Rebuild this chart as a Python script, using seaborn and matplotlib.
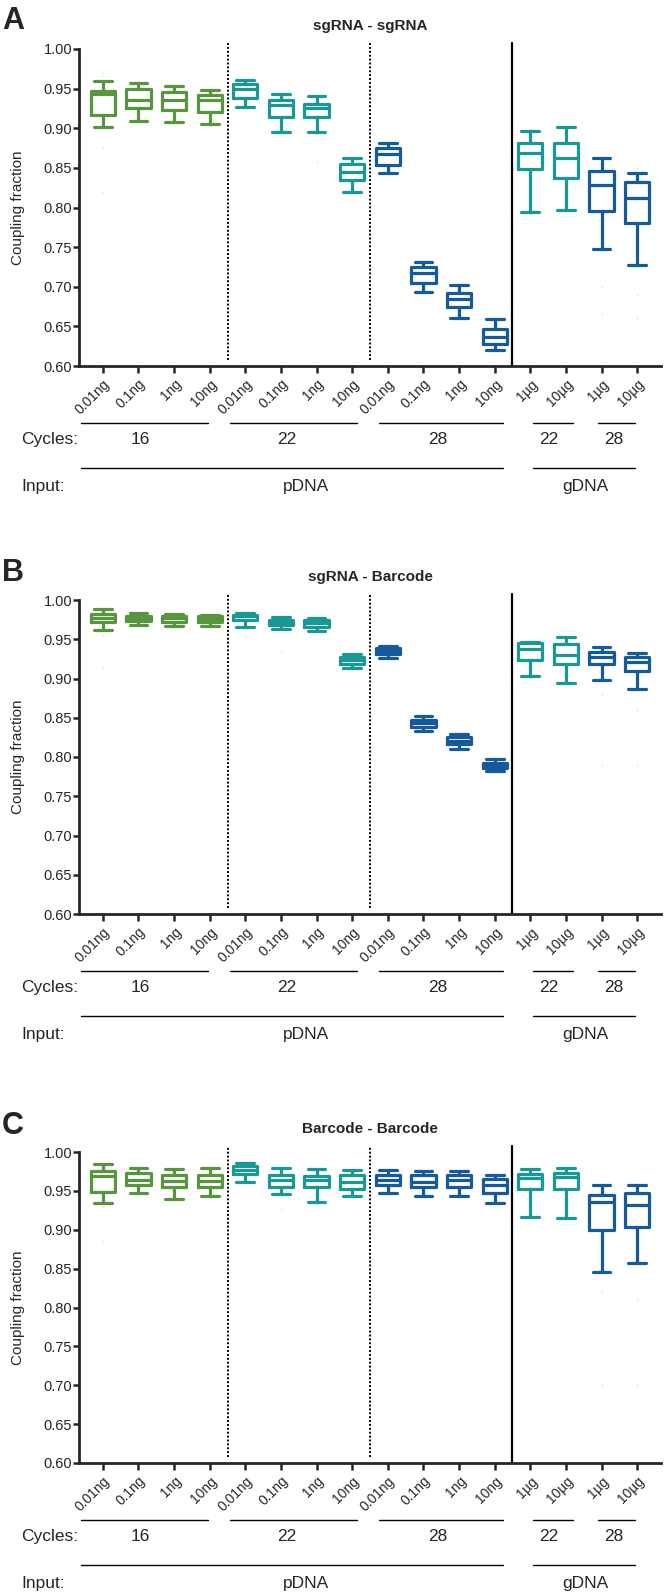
import numpy as np
import pandas as pd
import matplotlib
matplotlib.use("Agg")
import matplotlib.pyplot as plt
import matplotlib.transforms as mtransforms
import seaborn as sns

# categories
inputs = ['0.01ng', '0.1ng', '1ng', '10ng'] * 3 + ['1µg', '10µg'] * 2
cycles = ['16'] * 4 + ['22'] * 4 + ['28'] * 4 + ['22', '22', '28', '28']
groups = [f"g{i}" for i in range(len(inputs))]
palette = {'16': '#58953f', '22': '#1a9896', '28': '#155a9a'}

# Panel A: sgRNA - sgRNA (min, q1, median, q3, max)
a_low = [0.901, 0.909, 0.908, 0.905, 0.927, 0.895, 0.895, 0.819, 0.844, 0.693, 0.660, 0.620, 0.794, 0.797, 0.748, 0.728]
a_q1 = [0.917, 0.925, 0.923, 0.921, 0.938, 0.914, 0.914, 0.835, 0.853, 0.705, 0.675, 0.628, 0.848, 0.837, 0.795, 0.780]
a_med = [0.943, 0.936, 0.936, 0.936, 0.949, 0.929, 0.925, 0.845, 0.868, 0.717, 0.684, 0.637, 0.869, 0.862, 0.829, 0.812]
a_q3 = [0.947, 0.949, 0.946, 0.942, 0.956, 0.936, 0.931, 0.855, 0.875, 0.725, 0.692, 0.647, 0.881, 0.882, 0.846, 0.832]
a_high = [0.960, 0.957, 0.953, 0.948, 0.961, 0.943, 0.941, 0.863, 0.882, 0.731, 0.702, 0.659, 0.896, 0.902, 0.863, 0.843]
a_out_idx = [0, 0, 0, 6, 14, 14, 15, 15, 15]
a_out_val = [0.970, 0.876, 0.820, 0.858, 0.700, 0.665, 0.850, 0.690, 0.660]

# Panel B: sgRNA - Barcode
b_low = [0.962, 0.968, 0.967, 0.967, 0.966, 0.963, 0.960, 0.914, 0.926, 0.833, 0.810, 0.782, 0.903, 0.894, 0.898, 0.887]
b_q1 = [0.972, 0.973, 0.972, 0.972, 0.974, 0.968, 0.965, 0.919, 0.931, 0.838, 0.817, 0.786, 0.924, 0.919, 0.918, 0.909]
b_med = [0.977, 0.977, 0.977, 0.976, 0.979, 0.972, 0.971, 0.923, 0.935, 0.843, 0.821, 0.789, 0.938, 0.930, 0.928, 0.921]
b_q3 = [0.982, 0.980, 0.980, 0.979, 0.981, 0.975, 0.975, 0.928, 0.939, 0.847, 0.826, 0.792, 0.945, 0.944, 0.934, 0.928]
b_high = [0.989, 0.983, 0.982, 0.981, 0.984, 0.978, 0.977, 0.931, 0.942, 0.852, 0.829, 0.797, 0.947, 0.953, 0.940, 0.932]
b_out_idx = [0, 0, 4, 5, 14, 14, 15, 15]
b_out_val = [0.955, 0.913, 0.955, 0.935, 0.880, 0.790, 0.860, 0.790]

# Panel C: Barcode - Barcode
c_low = [0.935, 0.947, 0.939, 0.943, 0.962, 0.946, 0.936, 0.943, 0.947, 0.943, 0.944, 0.934, 0.916, 0.915, 0.846, 0.857]
c_q1 = [0.948, 0.958, 0.955, 0.955, 0.972, 0.955, 0.955, 0.952, 0.958, 0.955, 0.955, 0.947, 0.953, 0.952, 0.900, 0.903]
c_med = [0.969, 0.964, 0.963, 0.963, 0.977, 0.964, 0.964, 0.961, 0.964, 0.961, 0.964, 0.958, 0.966, 0.968, 0.936, 0.932]
c_q3 = [0.975, 0.973, 0.971, 0.970, 0.982, 0.971, 0.969, 0.970, 0.970, 0.970, 0.970, 0.965, 0.972, 0.973, 0.945, 0.947]
c_high = [0.984, 0.980, 0.978, 0.980, 0.986, 0.980, 0.978, 0.977, 0.977, 0.975, 0.975, 0.970, 0.978, 0.980, 0.957, 0.958]
c_out_idx = [0, 0, 5, 14, 14, 15, 15]
c_out_val = [0.930, 0.885, 0.927, 0.820, 0.700, 0.810, 0.700]

yticks = [0.60, 0.65, 0.70, 0.75, 0.80, 0.85, 0.90, 0.95, 1.00]

sns.set_style("ticks")
plt.rcParams['font.family'] = ['Liberation Sans', 'DejaVu Sans']

W, H = 667, 1593
fig = plt.figure(figsize=(W / 100, H / 100), dpi=100)

panels = [
    ('A', 'sgRNA - sgRNA', (a_low, a_q1, a_med, a_q3, a_high), (a_out_idx, a_out_val), 49, 366, 6),
    ('B', 'sgRNA - Barcode', (b_low, b_q1, b_med, b_q3, b_high), (b_out_idx, b_out_val), 600, 914, 558),
    ('C', 'Barcode - Barcode', (c_low, c_q1, c_med, c_q3, c_high), (c_out_idx, c_out_val), 1152, 1463, 1111),
]

for letter, title, stats, outs, top, bot, letter_y in panels:
    ax = fig.add_axes([79 / W, 1 - bot / H, 582 / W, (bot - top) / H])
    hpx = bot - top

    rows = []
    for i, g in enumerate(groups):
        for s in stats:
            rows.append({'group': g, 'cycles': cycles[i], 'value': s[i]})
    df = pd.DataFrame(rows)

    sns.boxplot(data=df, x='group', y='value', hue='cycles', order=groups,
                palette=palette, saturation=1, fill=False, dodge=False,
                width=0.68, whis=(0, 100), linewidth=2.3, fliersize=0,
                capwidths=0.5, legend=False, ax=ax)

    out_df = pd.DataFrame({'group': [groups[i] for i in outs[0]], 'value': outs[1]})
    sns.stripplot(data=out_df, x='group', y='value', order=groups, jitter=False,
                  color='#d0d0d0', size=1.5, alpha=0.5, ax=ax)

    ax.set_xlim(-0.67, 15.67)
    ax.set_ylim(0.60, 1.00)
    ax.set_yticks(yticks)
    ax.set_yticklabels([f"{t:.2f}" for t in yticks], fontsize=10.5)
    ax.set_xticks(range(len(groups)))
    ax.set_xticklabels(inputs, rotation=45, ha='right', rotation_mode='anchor', fontsize=10)
    ax.set_xlabel('')
    ax.set_ylabel('Coupling fraction', fontsize=11)
    ax.yaxis.set_label_coords(-0.092, 0.5)
    sns.despine(ax=ax)
    for sp in ['left', 'bottom']:
        ax.spines[sp].set_linewidth(2.0)
    ax.tick_params(axis='y', length=4, width=1.8, pad=1)
    ax.tick_params(axis='x', length=5, width=1.8, pad=3)

    # group separators
    top_ext = 1.0 + 6 * 0.4 / hpx
    ax.plot([3.5, 3.5], [0.60 + 6 * 0.4 / hpx, top_ext], color='k', lw=1.4,
            ls=(0, (1, 1)), clip_on=False)
    ax.plot([7.5, 7.5], [0.60 + 6 * 0.4 / hpx, top_ext], color='k', lw=1.4,
            ls=(0, (1, 1)), clip_on=False)
    ax.plot([11.5, 11.5], [0.60, top_ext], color='k', lw=1.6, clip_on=False)

    ax.text(0.5, 1 + 23 / hpx, title, transform=ax.transAxes, ha='center',
            va='center', fontsize=11, fontweight='bold')
    fig.text(2 / W, 1 - letter_y / H, letter, ha='left', va='top',
             fontsize=22, fontweight='bold')

    # annotation rows below the axis
    trans = mtransforms.blended_transform_factory(ax.transData, ax.transAxes)
    for x0, x1, xt, lab in [(-0.62, 2.95, 1.04, '16'), (3.57, 7.13, 5.17, '22'),
                            (7.75, 11.24, 9.41, '28'), (12.08, 13.2, 12.53, '22'),
                            (13.9, 14.94, 14.33, '28')]:
        ax.plot([x0, x1], [-57 / hpx] * 2, color='k', lw=1.0, transform=trans, clip_on=False)
        ax.text(xt, -78 / hpx, lab, transform=trans, ha='center', va='baseline', fontsize=12.5)
    for x0, x1, xt, lab in [(-0.62, 11.24, 5.7, 'pDNA'), (12.08, 14.94, 13.54, 'gDNA')]:
        ax.plot([x0, x1], [-102 / hpx] * 2, color='k', lw=1.0, transform=trans, clip_on=False)
        ax.text(xt, -125 / hpx, lab, transform=trans, ha='center', va='baseline', fontsize=12.5)
    fig.text(21 / W, 1 - (bot + 78) / H, 'Cycles:', ha='left', va='baseline', fontsize=12.5)
    fig.text(21 / W, 1 - (bot + 125) / H, 'Input:', ha='left', va='baseline', fontsize=12.5)

fig.savefig('out.png', dpi=100)
